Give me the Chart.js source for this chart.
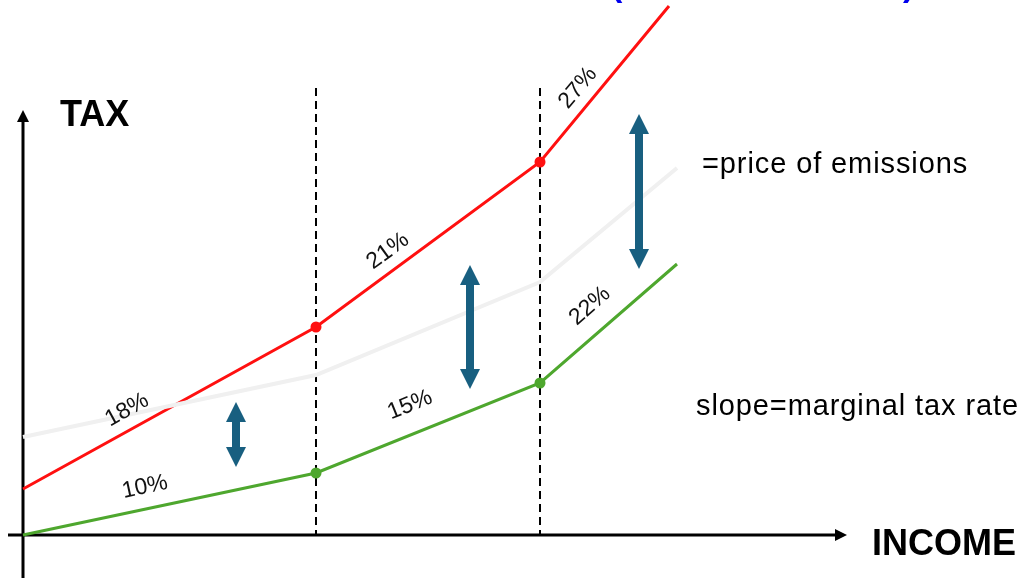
<!DOCTYPE html>
<html>
<head>
<meta charset="utf-8">
<script src="https://cdn.jsdelivr.net/npm/chart.js@4"></script>
<style>html,body{margin:0;padding:0;background:#fff;overflow:hidden}</style>
</head>
<body>
<canvas id="chart" width="1022" height="578"></canvas>
<script>
// tax schedules: income (x) vs tax (y), units
const incomeRed = [0, 293, 517, 646];
const taxRed = [46, 208, 373, 529];
const incomeGreen = [0, 293, 517, 654];
const taxGreen = [0, 62, 152, 271];
const incomeGray = [0, 293, 517, 654];
const taxGray = [98, 160, 253, 367];

// bracket edges (dashed lines)
const bracketEdges = [293, 517];
const bracketTop = 447;

// marginal rate labels along the segments
const rateLabels = ["18%", "10%", "21%", "15%", "27%", "22%"];
const labelX = [104, 122, 365, 387, 555, 567];
const labelY = [125, 48, 284, 130, 447, 229];
const labelAngle = [-29, -12, -36, -22, -50, -41];

// double arrows showing the gap between the two schedules
const gapX = [213, 447, 616];
const gapLow = [68, 146, 266];
const gapHigh = [133, 270, 421];

const FONT = "'Liberation Sans', Arial, sans-serif";

function pts(xs, ys) {
    return xs.map((x, i) => ({ x: x, y: ys[i] }));
}

const decor = {
    id: "decor",
    beforeDatasetsDraw(chart) {
        const ctx = chart.ctx;
        const xs = chart.scales.x;
        const ys = chart.scales.y;
        const x0 = xs.getPixelForValue(0);
        const y0 = ys.getPixelForValue(0);
        ctx.save();
        // dashed bracket lines
        ctx.strokeStyle = "#000";
        ctx.lineWidth = 2;
        ctx.setLineDash([8, 5]);
        bracketEdges.forEach((e) => {
            const px = xs.getPixelForValue(e);
            ctx.beginPath();
            ctx.moveTo(px, ys.getPixelForValue(bracketTop));
            ctx.lineTo(px, y0);
            ctx.stroke();
        });
        ctx.setLineDash([]);
        // axes with arrow heads
        ctx.lineWidth = 3;
        const right = xs.getPixelForValue(824);
        const top = ys.getPixelForValue(425);
        ctx.beginPath();
        ctx.moveTo(xs.getPixelForValue(-15), y0);
        ctx.lineTo(right - 8, y0);
        ctx.moveTo(x0, ys.getPixelForValue(-43));
        ctx.lineTo(x0, top + 8);
        ctx.stroke();
        ctx.fillStyle = "#000";
        ctx.beginPath();
        ctx.moveTo(right, y0);
        ctx.lineTo(right - 12, y0 - 6);
        ctx.lineTo(right - 12, y0 + 6);
        ctx.closePath();
        ctx.fill();
        ctx.beginPath();
        ctx.moveTo(x0, top);
        ctx.lineTo(x0 - 6, top + 12);
        ctx.lineTo(x0 + 6, top + 12);
        ctx.closePath();
        ctx.fill();
        ctx.restore();
    },
    afterDatasetsDraw(chart) {
        const ctx = chart.ctx;
        const xs = chart.scales.x;
        const ys = chart.scales.y;
        ctx.save();
        // gap arrows
        ctx.fillStyle = "#185f80";
        gapX.forEach((g, i) => {
            const px = xs.getPixelForValue(g);
            const a = ys.getPixelForValue(gapHigh[i]);
            const b = ys.getPixelForValue(gapLow[i]);
            const head = 20, half = 10, shaft = 4;
            ctx.beginPath();
            ctx.moveTo(px, a);
            ctx.lineTo(px + half, a + head);
            ctx.lineTo(px + shaft, a + head);
            ctx.lineTo(px + shaft, b - head);
            ctx.lineTo(px + half, b - head);
            ctx.lineTo(px, b);
            ctx.lineTo(px - half, b - head);
            ctx.lineTo(px - shaft, b - head);
            ctx.lineTo(px - shaft, a + head);
            ctx.lineTo(px - half, a + head);
            ctx.closePath();
            ctx.fill();
        });
        // rate labels
        ctx.fillStyle = "#111";
        ctx.font = "23px " + FONT;
        ctx.textAlign = "center";
        ctx.textBaseline = "middle";
        rateLabels.forEach((t, i) => {
            ctx.save();
            ctx.translate(xs.getPixelForValue(labelX[i]), ys.getPixelForValue(labelY[i]));
            ctx.rotate(labelAngle[i] * Math.PI / 180);
            ctx.fillText(t, 0, 0);
            ctx.restore();
        });
        // axis titles and notes
        ctx.textAlign = "left";
        ctx.textBaseline = "alphabetic";
        ctx.fillStyle = "#000";
        ctx.font = "bold 36px " + FONT;
        ctx.fillText("TAX", 60, 126);
        ctx.fillText("INCOME", 872, 555);
        ctx.font = "29px " + FONT;
        ctx.letterSpacing = "0.9px";
        ctx.fillText("=price of emissions", 702, 173);
        ctx.fillText("slope=marginal tax rate", 696, 415);
        ctx.letterSpacing = "0px";
        // cut-off title at the top edge
        ctx.fillStyle = "#0000ee";
        ctx.font = "bold 34px " + FONT;
        ctx.fillText("(", 611, -4);
        ctx.fillText(")", 903, -4);
        ctx.restore();
    }
};

const ctx = document.getElementById("chart").getContext("2d");
const chart = new Chart(ctx, {
    type: "line",
    data: {
        datasets: [
            {
                label: "gray",
                data: pts(incomeGray, taxGray),
                borderColor: "#f0f0f0",
                borderWidth: 4,
                pointRadius: 0,
            },
            {
                label: "red",
                data: pts(incomeRed, taxRed),
                borderColor: "#ff1010",
                backgroundColor: "#ff1010",
                borderWidth: 3,
                pointRadius: [0, 5.5, 5.5, 0],
                pointBorderWidth: 0,
            },
            {
                label: "green",
                data: pts(incomeGreen, taxGreen),
                borderColor: "#4ea72e",
                backgroundColor: "#4ea72e",
                borderWidth: 3,
                pointRadius: [0, 5.5, 5.5, 0],
                pointBorderWidth: 0,
            },
        ],
    },
    options: {
        responsive: false,
        animation: false,
        devicePixelRatio: 1,
        layout: { padding: 0 },
        plugins: { legend: { display: false }, tooltip: { enabled: false } },
        scales: {
            x: { type: "linear", min: -23, max: 999, display: false },
            y: { type: "linear", min: -43, max: 535, display: false },
        },
    },
    plugins: [decor],
});
</script>
</body>
</html>
